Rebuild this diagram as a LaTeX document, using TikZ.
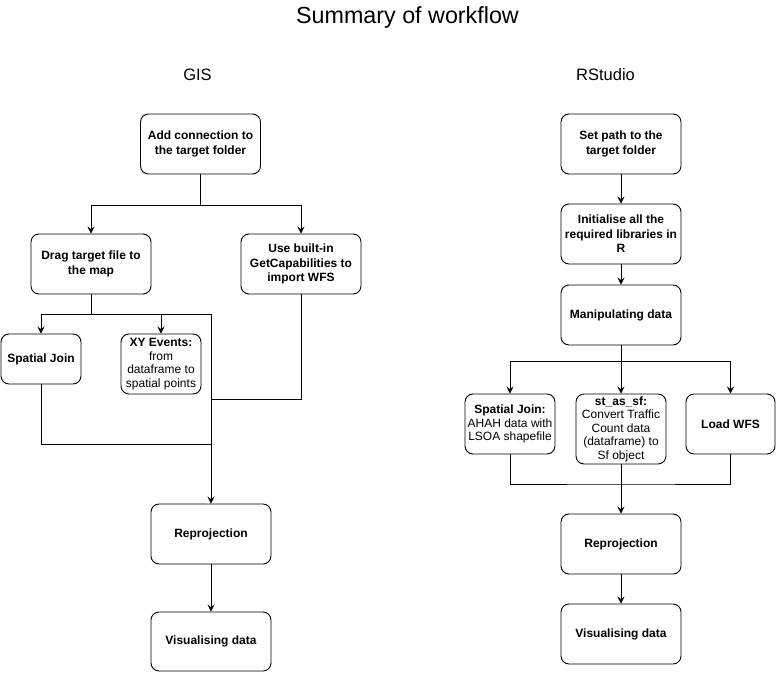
\documentclass[tikz,border=0pt]{standalone}
\usepackage{fontspec}
\setmainfont{Liberation Sans}
\usetikzlibrary{arrows.meta}
\begin{document}
\begin{tikzpicture}[x=1pt,y=-1pt,
  box/.style={draw, line width=0.9pt, rounded corners=8pt, inner sep=0pt, align=center,
    minimum width=120pt, minimum height=60pt, font=\fontsize{12}{14.5}\selectfont},
  small/.style={box, font=\fontsize{12}{13.5}\selectfont},
  ln/.style={line width=0.9pt},
  arr/.style={ln, -{Stealth[length=7pt,width=7pt,inset=2.5pt]}},
  ttl/.style={inner sep=0pt, anchor=base}]
\useasboundingbox (0,0) rectangle (776,672);
\fill[white] (0,0) rectangle (776,672);

% titles
\node[ttl, font=\fontsize{23.3}{27}\selectfont] (title) at (407.5,23) {Summary of workflow};
\node[ttl, font=\fontsize{16.5}{19}\selectfont] (gis) at (197.5,80) {GIS};
\node[ttl, font=\fontsize{16.5}{19}\selectfont] (rs) at (605.5,80) {RStudio};

% GIS column
\node[box] (a1) at (200.5,144) {\textbf{Add connection to}\\\textbf{the target folder}};
\node[box] (a2) at (91,264) {\textbf{Drag target file to}\\\textbf{the map}};
\node[box] (a3) at (301,264) {\textbf{Use built-in}\\\textbf{GetCapabilities to}\\\textbf{import WFS}};
\node[box, minimum width=80pt, minimum height=50pt] (a4) at (41,359) {\textbf{Spatial Join}};
\node[small, minimum width=80pt, minimum height=60pt] (a5) at (161,364) {\textbf{XY Events:}\\from\\dataframe to\\spatial points};
\node[box] (a6) at (211,534) {\textbf{Reprojection}};
\node[box, minimum height=59pt] (a7) at (211,641.5) {\textbf{Visualising data}};

\coordinate (j1) at (200.5,205);
\coordinate (j2) at (91,314);
\coordinate (m1) at (211,314);
\coordinate (m2) at (211,399);
\coordinate (m3) at (211,444);

\draw[ln] (a1.south) -- (j1);
\draw[arr] (j1) -| (a2.north);
\draw[arr] (j1) -| (a3.north);
\draw[ln] (a2.south) -- (j2);
\draw[arr] (j2) -| (a4.north);
\draw[arr] (j2) -| (a5.north);
\draw[ln] (j2) -- (m1);
\draw[arr] (m1) -- (a6.north);
\draw[ln] (a3.south) |- (m2);
\draw[ln] (a4.south) |- (m3);
\draw[arr] (a6.south) -- (a7.north);

% RStudio column
\node[box] (b1) at (621,144) {\textbf{Set path to the}\\\textbf{target folder}};
\node[box] (b2) at (621,234) {\textbf{Initialise all the}\\\textbf{required libraries in}\\\textbf{R}};
\node[box] (b3) at (621,315) {\textbf{Manipulating data}};
\node[small, minimum width=90pt, minimum height=60pt] (b4) at (510,424) {\textbf{Spatial Join:}\\AHAH data with\\LSOA shapefile};
\node[small, minimum width=90pt, minimum height=70pt] (b5) at (621,429) {\textbf{st\_as\_sf:}\\Convert Traffic\\Count data\\(dataframe) to\\Sf object};
\node[box, minimum width=89pt, minimum height=60pt] (b6) at (730.5,424) {\textbf{Load WFS}};
\node[box] (b7) at (621,544) {\textbf{Reprojection}};
\node[box] (b8) at (621,634) {\textbf{Visualising data}};

\coordinate (j3) at (621,361);
\coordinate (j4) at (621,484);

\draw[arr] (b1.south) -- (b2.north);
\draw[arr] (b2.south) -- (b3.north);
\draw[ln] (b3.south) -- (j3);
\draw[arr] (j3) -| (b4.north);
\draw[arr] (j3) -| (b6.north);
\draw[arr] (j3) -- (b5.north);
\draw[ln] (b4.south) |- (j4) -| (b6.south);
\draw[arr] (b5.south) -- (b7.north);
\draw[arr] (b7.south) -- (b8.north);
\end{tikzpicture}
\end{document}
